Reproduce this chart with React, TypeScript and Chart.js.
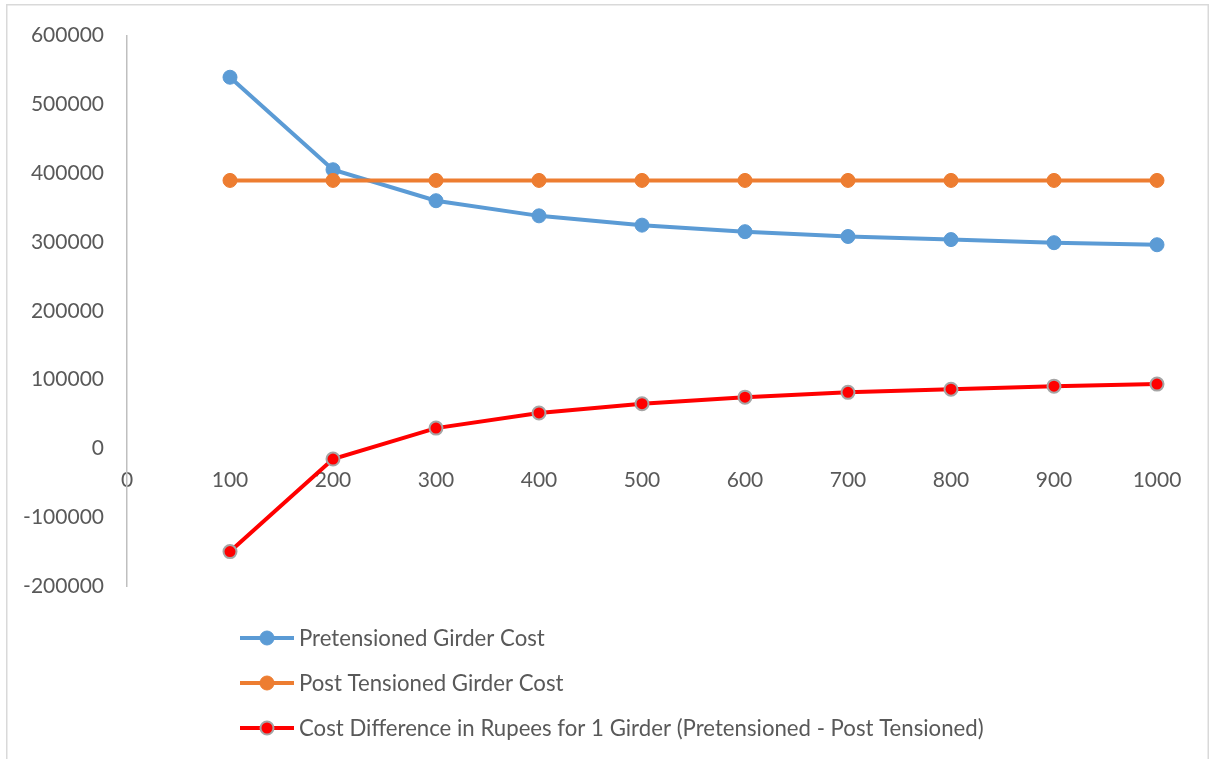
import React, { useEffect, useRef } from "react";
import { Chart, registerables } from "chart.js";

Chart.register(...registerables);

// Number of girders on the horizontal axis
const girderCounts = [100, 200, 300, 400, 500, 600, 700, 800, 900, 1000];

// Cost per girder (Rupees)
const pretensionedCost = [539500, 405000, 360000, 338000, 324500, 315000, 308000, 303500, 299000, 296000];
const postTensionedCost = [389500, 389500, 389500, 389500, 389500, 389500, 389500, 389500, 389500, 389500];
const costDifference = [-150000, -15500, 29500, 51500, 65000, 74500, 81500, 86000, 90500, 93500];

// Axis ticks
const xTicks = { min: 0, max: 1000, step: 100 };
const yTicks = { min: -200000, max: 600000, step: 100000 };

const seriesNames = [
  "Pretensioned Girder Cost",
  "Post Tensioned Girder Cost",
  "Cost Difference in Rupees for 1 Girder (Pretensioned - Post Tensioned)",
];

const FONT = "Lato, 'Open Sans', sans-serif";
const TEXT_COLOR = "#595959";

const toPoints = (values: number[]) => girderCounts.map((x, i) => ({ x, y: values[i] }));

// White background with a light frame around the chart
const framePlugin = {
  id: "frame",
  beforeDraw(chart: any) {
    const { ctx, width, height } = chart;
    ctx.save();
    ctx.fillStyle = "#ffffff";
    ctx.fillRect(0, 0, width, height);
    ctx.strokeStyle = "#d9d9d9";
    ctx.lineWidth = 1.5;
    ctx.strokeRect(6.75, 4.75, width - 9.5, height + 50);
    ctx.restore();
  },
};

// Legend stacked one entry per row under the plot
const stackedLegendPlugin = {
  id: "stackedLegend",
  afterDraw(chart: any) {
    const { ctx, chartArea } = chart;
    const lineStart = 240;
    const lineEnd = 294;
    const textX = 299;
    chart.data.datasets.forEach((ds: any, i: number) => {
      const y = chartArea.bottom + 52 + i * 45;
      ctx.save();
      ctx.strokeStyle = ds.borderColor;
      ctx.lineWidth = 4;
      ctx.beginPath();
      ctx.moveTo(lineStart, y);
      ctx.lineTo(lineEnd, y);
      ctx.stroke();
      ctx.beginPath();
      ctx.arc((lineStart + lineEnd) / 2, y, ds.pointRadius, 0, Math.PI * 2);
      ctx.fillStyle = ds.pointBackgroundColor;
      ctx.fill();
      ctx.lineWidth = ds.pointBorderWidth;
      ctx.strokeStyle = ds.pointBorderColor;
      ctx.stroke();
      ctx.fillStyle = TEXT_COLOR;
      ctx.font = `22.2px ${FONT}`;
      ctx.textAlign = "left";
      ctx.textBaseline = "middle";
      ctx.fillText(ds.label, textX, y + 1);
      ctx.restore();
    });
  },
};

export default function App() {
  const canvasRef = useRef<HTMLCanvasElement | null>(null);

  useEffect(() => {
    const canvas = canvasRef.current;
    if (!canvas) return;
    const chart = new Chart(canvas, {
      type: "line",
      data: {
        datasets: [
          {
            label: seriesNames[0],
            data: toPoints(pretensionedCost),
            borderColor: "#5b9bd5",
            backgroundColor: "#5b9bd5",
            pointBackgroundColor: "#5b9bd5",
            pointBorderColor: "#5b9bd5",
            pointBorderWidth: 1,
            pointRadius: 7,
            borderWidth: 4,
            tension: 0,
            clip: false,
            order: 2,
          },
          {
            label: seriesNames[1],
            data: toPoints(postTensionedCost),
            borderColor: "#ed7d31",
            backgroundColor: "#ed7d31",
            pointBackgroundColor: "#ed7d31",
            pointBorderColor: "#ed7d31",
            pointBorderWidth: 1,
            pointRadius: 7,
            borderWidth: 4,
            tension: 0,
            clip: false,
            order: 1,
          },
          {
            label: seriesNames[2],
            data: toPoints(costDifference),
            borderColor: "#ff0000",
            backgroundColor: "#ff0000",
            pointBackgroundColor: "#ff0000",
            pointBorderColor: "#a5a5a5",
            pointBorderWidth: 2,
            pointRadius: 6.5,
            borderWidth: 4,
            tension: 0,
            clip: false,
            order: 0,
          },
        ],
      },
      options: {
        responsive: false,
        animation: false,
        layout: { padding: { top: 34, bottom: 173, left: 0, right: 54 } },
        plugins: {
          legend: { display: false },
          tooltip: { enabled: false },
        },
        scales: {
          x: {
            type: "linear",
            position: { y: 0 } as any,
            min: xTicks.min,
            max: xTicks.max,
            grid: { display: false, drawTicks: false },
            border: { display: false },
            ticks: {
              stepSize: xTicks.step,
              padding: 19,
              color: TEXT_COLOR,
              font: { family: FONT, size: 21 },
              maxRotation: 0,
              autoSkip: false,
              callback: (v: any) => String(v),
            },
          },
          y: {
            type: "linear",
            position: "left",
            min: yTicks.min,
            max: yTicks.max,
            grid: { display: false, drawTicks: false },
            border: { display: true, color: "#bfbfbf", width: 1.5 },
            afterFit: (scale: any) => {
              scale.width = 127;
            },
            ticks: {
              stepSize: yTicks.step,
              padding: 23,
              color: TEXT_COLOR,
              font: { family: FONT, size: 21 },
              callback: (v: any) => String(v),
            },
          },
        },
      },
      plugins: [framePlugin, stackedLegendPlugin],
    });
    return () => chart.destroy();
  }, []);

  return (
    <div style={{ position: "absolute", left: 0, top: 0, width: 1211, height: 759 }}>
      <canvas ref={canvasRef} width={1211} height={759} />
    </div>
  );
}
